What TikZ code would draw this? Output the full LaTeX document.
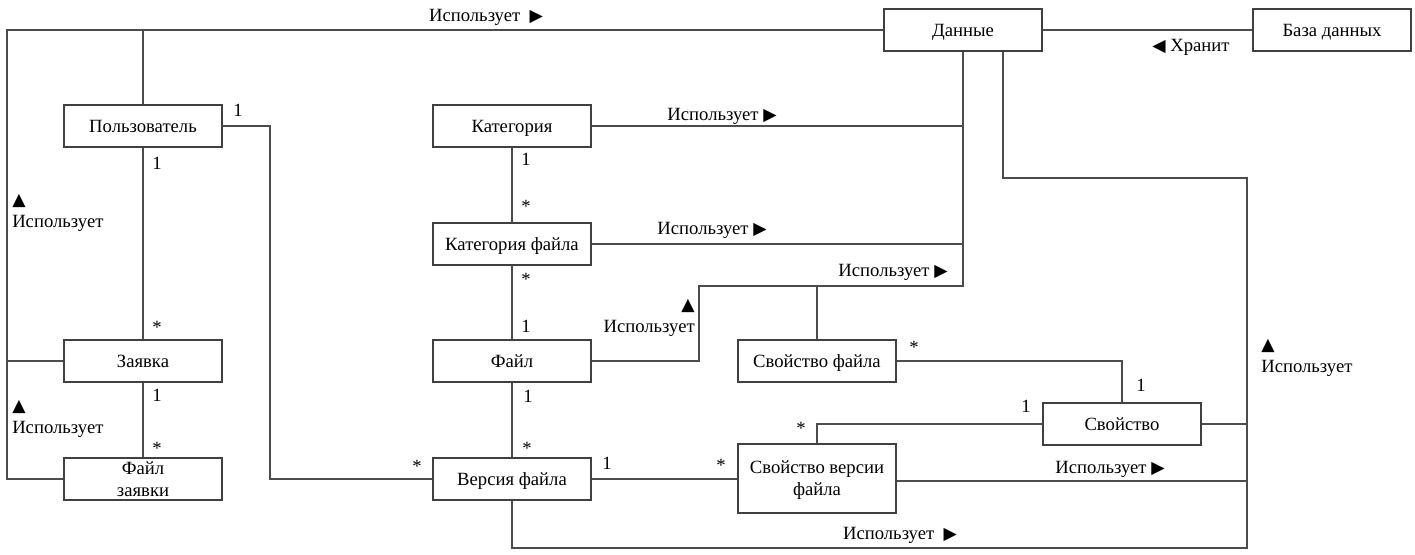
\documentclass[tikz,border=0pt]{standalone}
\usepackage{fontspec}
\setmainfont{Liberation Serif}
\newfontfamily\symf{DejaVu Sans}
\usetikzlibrary{calc}
\newcommand{\tri}[1]{{\symf\fontsize{13}{14}\selectfont #1}}
\begin{document}
\begin{tikzpicture}[x=0.75pt,y=-0.75pt,
  box/.style={draw=black!75, line width=0.8pt, minimum width=118.5pt, minimum height=31.5pt,
    inner sep=2pt, align=center, font=\fontsize{14}{16.5}\selectfont,
    text height=9.3pt, text depth=0pt},
  box2/.style={box, text height=25.8pt},
  conn/.style={draw=black!70, line width=0.8pt},
  lbl/.style={inner sep=0pt, font=\fontsize{14}{16.5}\selectfont},
  mult/.style={inner sep=0pt, font=\fontsize{14}{16.5}\selectfont}]
\useasboundingbox (0,0) rectangle (1415,554);
% boxes
\node[box] (user) at (143,126) {Пользователь};
\node[box] (data) at (963,30) {Данные};
\node[box] (db) at (1332,30) {База данных};
\node[box] (cat) at (512,126) {Категория};
\node[box] (catf) at (512,244) {Категория файла};
\node[box] (file) at (512,361) {Файл};
\node[box] (ver) at (512,479) {Версия файла};
\node[box] (req) at (143,361) {Заявка};
\node[box2] (reqf) at (143,479) {Файл\\заявки};
\node[box] (fprop) at (817,361) {Свойство файла};
\node[box2, minimum height=51.75pt] (vprop) at (817,478.5) {Свойство версии\\файла};
\node[box] (prop) at (1122,424) {Свойство};
% bend points
\coordinate (lt) at (7,30);
\coordinate (uv) at (270,126);
\coordinate (dj) at (963,286);
\coordinate (fb) at (699,286);
\coordinate (rt) at (1247,178);
\coordinate (rb) at (1247,548);
\coordinate (ve) at ([yshift=-1.875pt]vprop.east);
% connectors
\draw[conn] (user.north) |- (data.west);
\draw[conn] (req.west) -| (lt) -- (data.west);
\draw[conn] (reqf.west) -| (req.west -| lt);
\draw[conn] (user.south) -- (req.north);
\draw[conn] (req.south) -- (reqf.north);
\draw[conn] (user.east) -- (uv) |- (ver.west);
\draw[conn] (cat.east) -| (data.south);
\draw[conn] (catf.east) -| (data.south);
\draw[conn] (file.east) -| (fb) -- (dj) -- (data.south);
\draw[conn] (fprop.north) -- (fprop.north |- fb);
\draw[conn] (cat.south) -- (catf.north);
\draw[conn] (catf.south) -- (file.north);
\draw[conn] (file.south) -- (ver.north);
\draw[conn] (ver.east) -- (ver.east -| vprop.west);
\draw[conn] (fprop.east) -| (prop.north);
\draw[conn] (prop.west) -| (vprop.north);
\draw[conn] ($(data.south)+(40,0)$) |- (rt) -- (rb) -| (ver.south);
\draw[conn] (prop.east) -- (prop.east -| rt);
\draw[conn] (ve) -- (ve -| rt);
\draw[conn] (data.east) -- (db.west);
% association labels
\node[lbl] (l1) at (486,17) {Использует\hspace{7pt}\tri{▶}};
\node[lbl] (l2) at (1191,47) {\tri{◀} Хранит};
\node[lbl] (l3) at (722,116) {Использует \tri{▶}};
\node[lbl] (l4) at (712,230) {Использует \tri{▶}};
\node[lbl] (l5) at (893,272) {Использует \tri{▶}};
\node[lbl, align=right, anchor=east] (l6) at (695,318) {\tri{▲}\\Использует};
\node[lbl, align=left, anchor=west] (l7) at (12,213) {\tri{▲}\\Использует};
\node[lbl, align=left, anchor=west] (l8) at (12,419) {\tri{▲}\\Использует};
\node[lbl, align=left, anchor=west] (l9) at (1261,358) {\tri{▲}\\Использует};
\node[lbl] (l10) at (1110,469) {Использует \tri{▶}};
\node[lbl] (l11) at (900,535) {Использует\hspace{7pt}\tri{▶}};
% multiplicities
\node[mult] (m1) at (238,110) {1};
\node[mult] (m2) at (157,163) {1};
\node[mult] (m3) at (157,327) {*};
\node[mult] (m4) at (157,395) {1};
\node[mult] (m5) at (157,448) {*};
\node[mult] (m6) at (417,466) {*};
\node[mult] (m7) at (526,159) {1};
\node[mult] (m8) at (526,206) {*};
\node[mult] (m9) at (526,279) {*};
\node[mult] (m10) at (526,326) {1};
\node[mult] (m11) at (528,396) {1};
\node[mult] (m12) at (527,448) {*};
\node[mult] (m13) at (607,463) {1};
\node[mult] (m14) at (721,465) {*};
\node[mult] (m15) at (914,347) {*};
\node[mult] (m16) at (1141,385) {1};
\node[mult] (m17) at (1026,406) {1};
\node[mult] (m18) at (801,428) {*};
\end{tikzpicture}
\end{document}
